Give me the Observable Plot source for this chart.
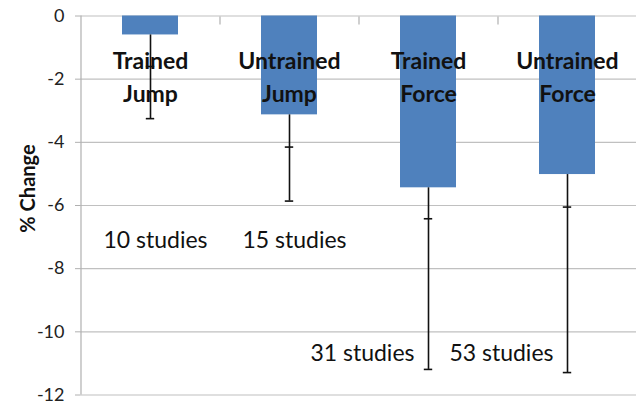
<!DOCTYPE html>
<html>
<head>
<meta charset="utf-8">
<script src="https://cdn.jsdelivr.net/npm/d3@7"></script>
<script src="https://cdn.jsdelivr.net/npm/@observablehq/plot@0.6"></script>
<style>
  html, body { margin: 0; padding: 0; background: #fff; }
  #chart svg { display: block; }
</style>
</head>
<body>
<div id="chart"></div>
<script>
const categories = ["Trained\nJump", "Untrained\nJump", "Trained\nForce", "Untrained\nForce"];
const meanChange = [-0.6, -3.13, -5.44, -5.02];
const errorTick = [-1.6, -4.15, -6.42, -6.05];
const errorLow = [-3.25, -5.86, -11.19, -11.29];
const studyLabels = ["10 studies", "15 studies", "31 studies", "53 studies"];
const studyLabelY = [-7.1, -7.1, -10.7, -10.7];
const yTicks = [0, -2, -4, -6, -8, -10, -12];
const categoryLabelY = -1.88;

const data = categories.map((c, i) => ({
  cat: c, value: meanChange[i], tick: errorTick[i], low: errorLow[i],
  studies: studyLabels[i], sy: studyLabelY[i]
}));

const W = 636, H = 404, mL = 80, mR = 0, mT = 15.5, mB = 9.5;
const step = (W - mL - mR) / categories.length;
const font = "Lato, 'Open Sans', sans-serif";

const chart = Plot.plot({
  width: W, height: H,
  marginLeft: mL, marginRight: mR, marginTop: mT, marginBottom: mB,
  style: { fontFamily: font, background: "#fff", overflow: "visible" },
  x: { domain: categories, paddingInner: 0.6, paddingOuter: 0.3, axis: null },
  y: { domain: [-12, 0], ticks: yTicks, axis: null },
  marks: [
    Plot.gridY(yTicks, { stroke: "#c0c0c0", strokeOpacity: 1, strokeWidth: 1.2 }),
    Plot.axisX({ anchor: "top", ticks: categories, tickSize: -8, dx: step / 2,
      tickFormat: () => "", label: null, stroke: "#b0b0b0", strokeWidth: 1.2 }),
    Plot.barY(data, { x: "cat", y1: 0, y2: "value", fill: "#4f81bd" }),
    Plot.text(data, { x: "cat", y: () => categoryLabelY, text: "cat",
      fontSize: 23, fontWeight: "bold", lineHeight: 1.43, fill: "#111",
      lineAnchor: "middle" }),
    Plot.ruleX(data, { x: "cat", y1: "value", y2: "low", stroke: "#111", strokeWidth: 1.6 }),
    Plot.tickY(data, { x: "cat", y: "low", stroke: "#111", strokeWidth: 1.6, inset: 23.8 }),
    Plot.tickY(data, { x: "cat", y: "tick", stroke: "#111", strokeWidth: 1.6, inset: 23.8 }),
    Plot.text(data.slice(0, 2), { x: "cat", y: "sy", text: "studies", fontSize: 23,
      fill: "#111", textAnchor: "middle", dx: 5 }),
    Plot.text(data.slice(2), { x: "cat", y: "sy", text: "studies", fontSize: 23,
      fill: "#111", textAnchor: "end", dx: -14 }),
    Plot.axisY({ ticks: yTicks, tickSize: 5, tickPadding: 11, fontSize: 18,
      tickFormat: d => String(d), fill: "#222", stroke: "#b0b0b0", label: null }),
    Plot.ruleX([0], { x: () => categories[0], dx: -step * 0.5, y1: 0, y2: -12,
      stroke: "#b0b0b0", strokeWidth: 1.2 }),
    Plot.text(["% Change"], { frameAnchor: "left", textAnchor: "middle", dx: -52, dy: -17,
      rotate: -90, text: d => d, fontSize: 20, fontWeight: "bold", fill: "#111" })
  ]
});
document.getElementById("chart").appendChild(chart);
</script>
</body>
</html>
